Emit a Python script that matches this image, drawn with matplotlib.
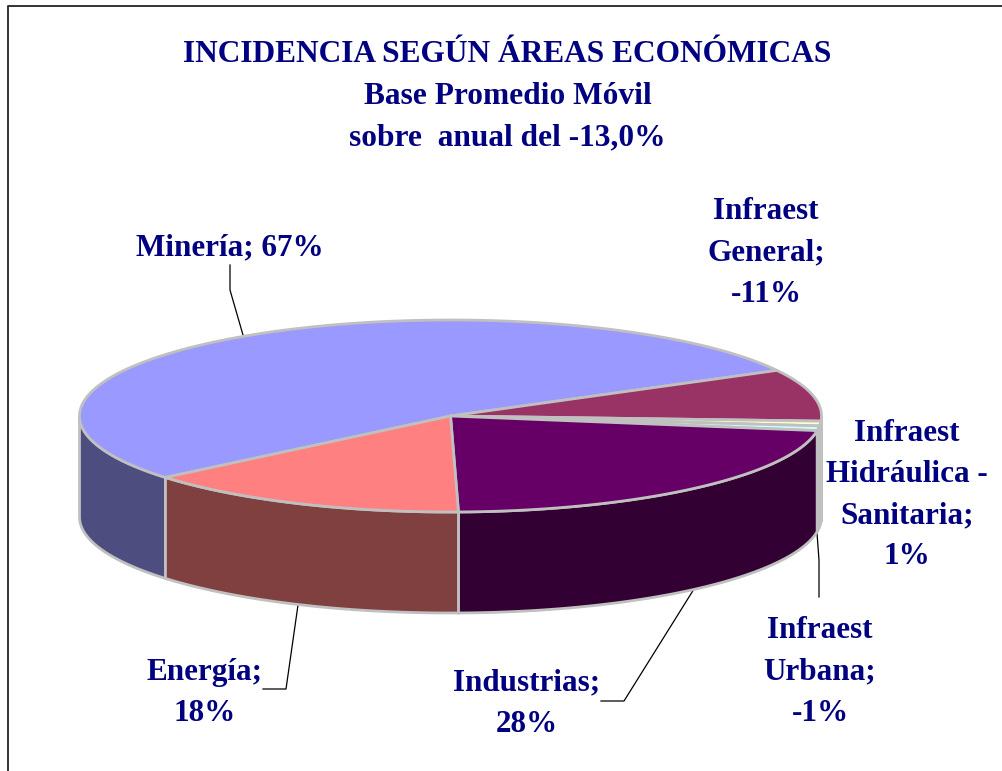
import numpy as np
import matplotlib
matplotlib.use('Agg')
import matplotlib.pyplot as plt
from matplotlib.patches import Polygon

# slices, clockwise from Mineria
names = ['Minería', 'Infraest General', 'Infraest Hidráulica - Sanitaria',
         'Infraest Urbana', 'Industrias', 'Energía']
values = [67, -11, 1, -1, 28, 18]
top_colors = ['#9999FF', '#993366', '#FFFFCC', '#CCFFFF', '#660066', '#FF8080']
side_colors = ['#4D4D80', '#4D1A33', '#808066', '#668080', '#330033', '#804040']

title_lines = ['INCIDENCIA SEGÚN ÁREAS ECONÓMICAS', 'Base Promedio Móvil', 'sobre  anual del -13,0%']
label_texts = ['Minería; 67%', 'Infraest\nGeneral;\n-11%', 'Infraest\nHidráulica -\nSanitaria;\n1%',
               'Infraest\nUrbana;\n-1%', 'Industrias;\n28%', 'Energía;\n18%']
label_pos = [(230, 248), (766, 253), (907, 495), (820, 672), (527, 704), (205, 693)]

# pie geometry in pixels
cx, cy = 450.5, 416
rx, ry = 371, 96
depth = 101
start = 219.8
navy = '#000080'
edge = '#C0C0C0'

fig = plt.figure(figsize=(10.02, 7.71), dpi=100)
ax = fig.add_axes([0, 0, 1, 1])
ax.set_xlim(0, 1002)
ax.set_ylim(771, 0)
ax.axis('off')


def rim(a, b, n=120):
    t = np.radians(np.linspace(a, b, n))
    return cx + rx * np.cos(t), cy - ry * np.sin(t)


sizes = np.abs(values) / np.abs(values).sum() * 360
a = start
for size, top, side in zip(sizes, top_colors, side_colors):
    b = a - size
    # outer wall only where the rim faces the viewer (180..360 deg)
    lo, hi = (b + 720) % 360, (b + 720) % 360 + size
    lo2 = max(lo, 180)
    hi2 = min(hi, 360)
    if hi2 > lo2:
        x, y = rim(lo2, hi2)
        pts = np.r_[np.c_[x, y], np.c_[x[::-1], y[::-1] + depth]]
        ax.add_patch(Polygon(pts, closed=True, fc=side, ec=edge, lw=2, zorder=2))
    # the wedge that wraps past 360 deg back into the front
    if hi - 360 > 180:
        x, y = rim(180, hi - 360)
        pts = np.r_[np.c_[x, y], np.c_[x[::-1], y[::-1] + depth]]
        ax.add_patch(Polygon(pts, closed=True, fc=side, ec=edge, lw=2, zorder=2))
    x, y = rim(a, b)
    pts = np.r_[[[cx, cy]], np.c_[x, y]]
    ax.add_patch(Polygon(pts, closed=True, fc=top, ec=edge, lw=2, zorder=3))
    a = b

# leader lines
leaders = [([230, 230, 243], [265, 290, 335]),
           ([263, 286, 298], [689, 689, 605]),
           ([601, 624, 694], [701, 701, 589]),
           ([817, 819, 819], [533, 560, 597])]
for lx, ly in leaders:
    ax.plot(lx, ly, color='black', lw=0.9, zorder=1)

# chart frame, left and top only show
ax.plot([8, 8, 1002], [771, 6, 6], color='#333333', lw=1.4, clip_on=False)

for line, y in zip(title_lines, [55, 96.5, 138]):
    ax.text(507.5, y, line, color=navy, fontsize=22.6, fontweight='bold',
            ha='center', va='center', family='Liberation Serif')

for txt, (x, y) in zip(label_texts, label_pos):
    ax.text(x, y, txt, color=navy, fontsize=22.4, fontweight='bold', ha='center',
            va='center', multialignment='center', linespacing=1.56, family='Liberation Serif')

fig.savefig('out.png', dpi=100, facecolor='white')
